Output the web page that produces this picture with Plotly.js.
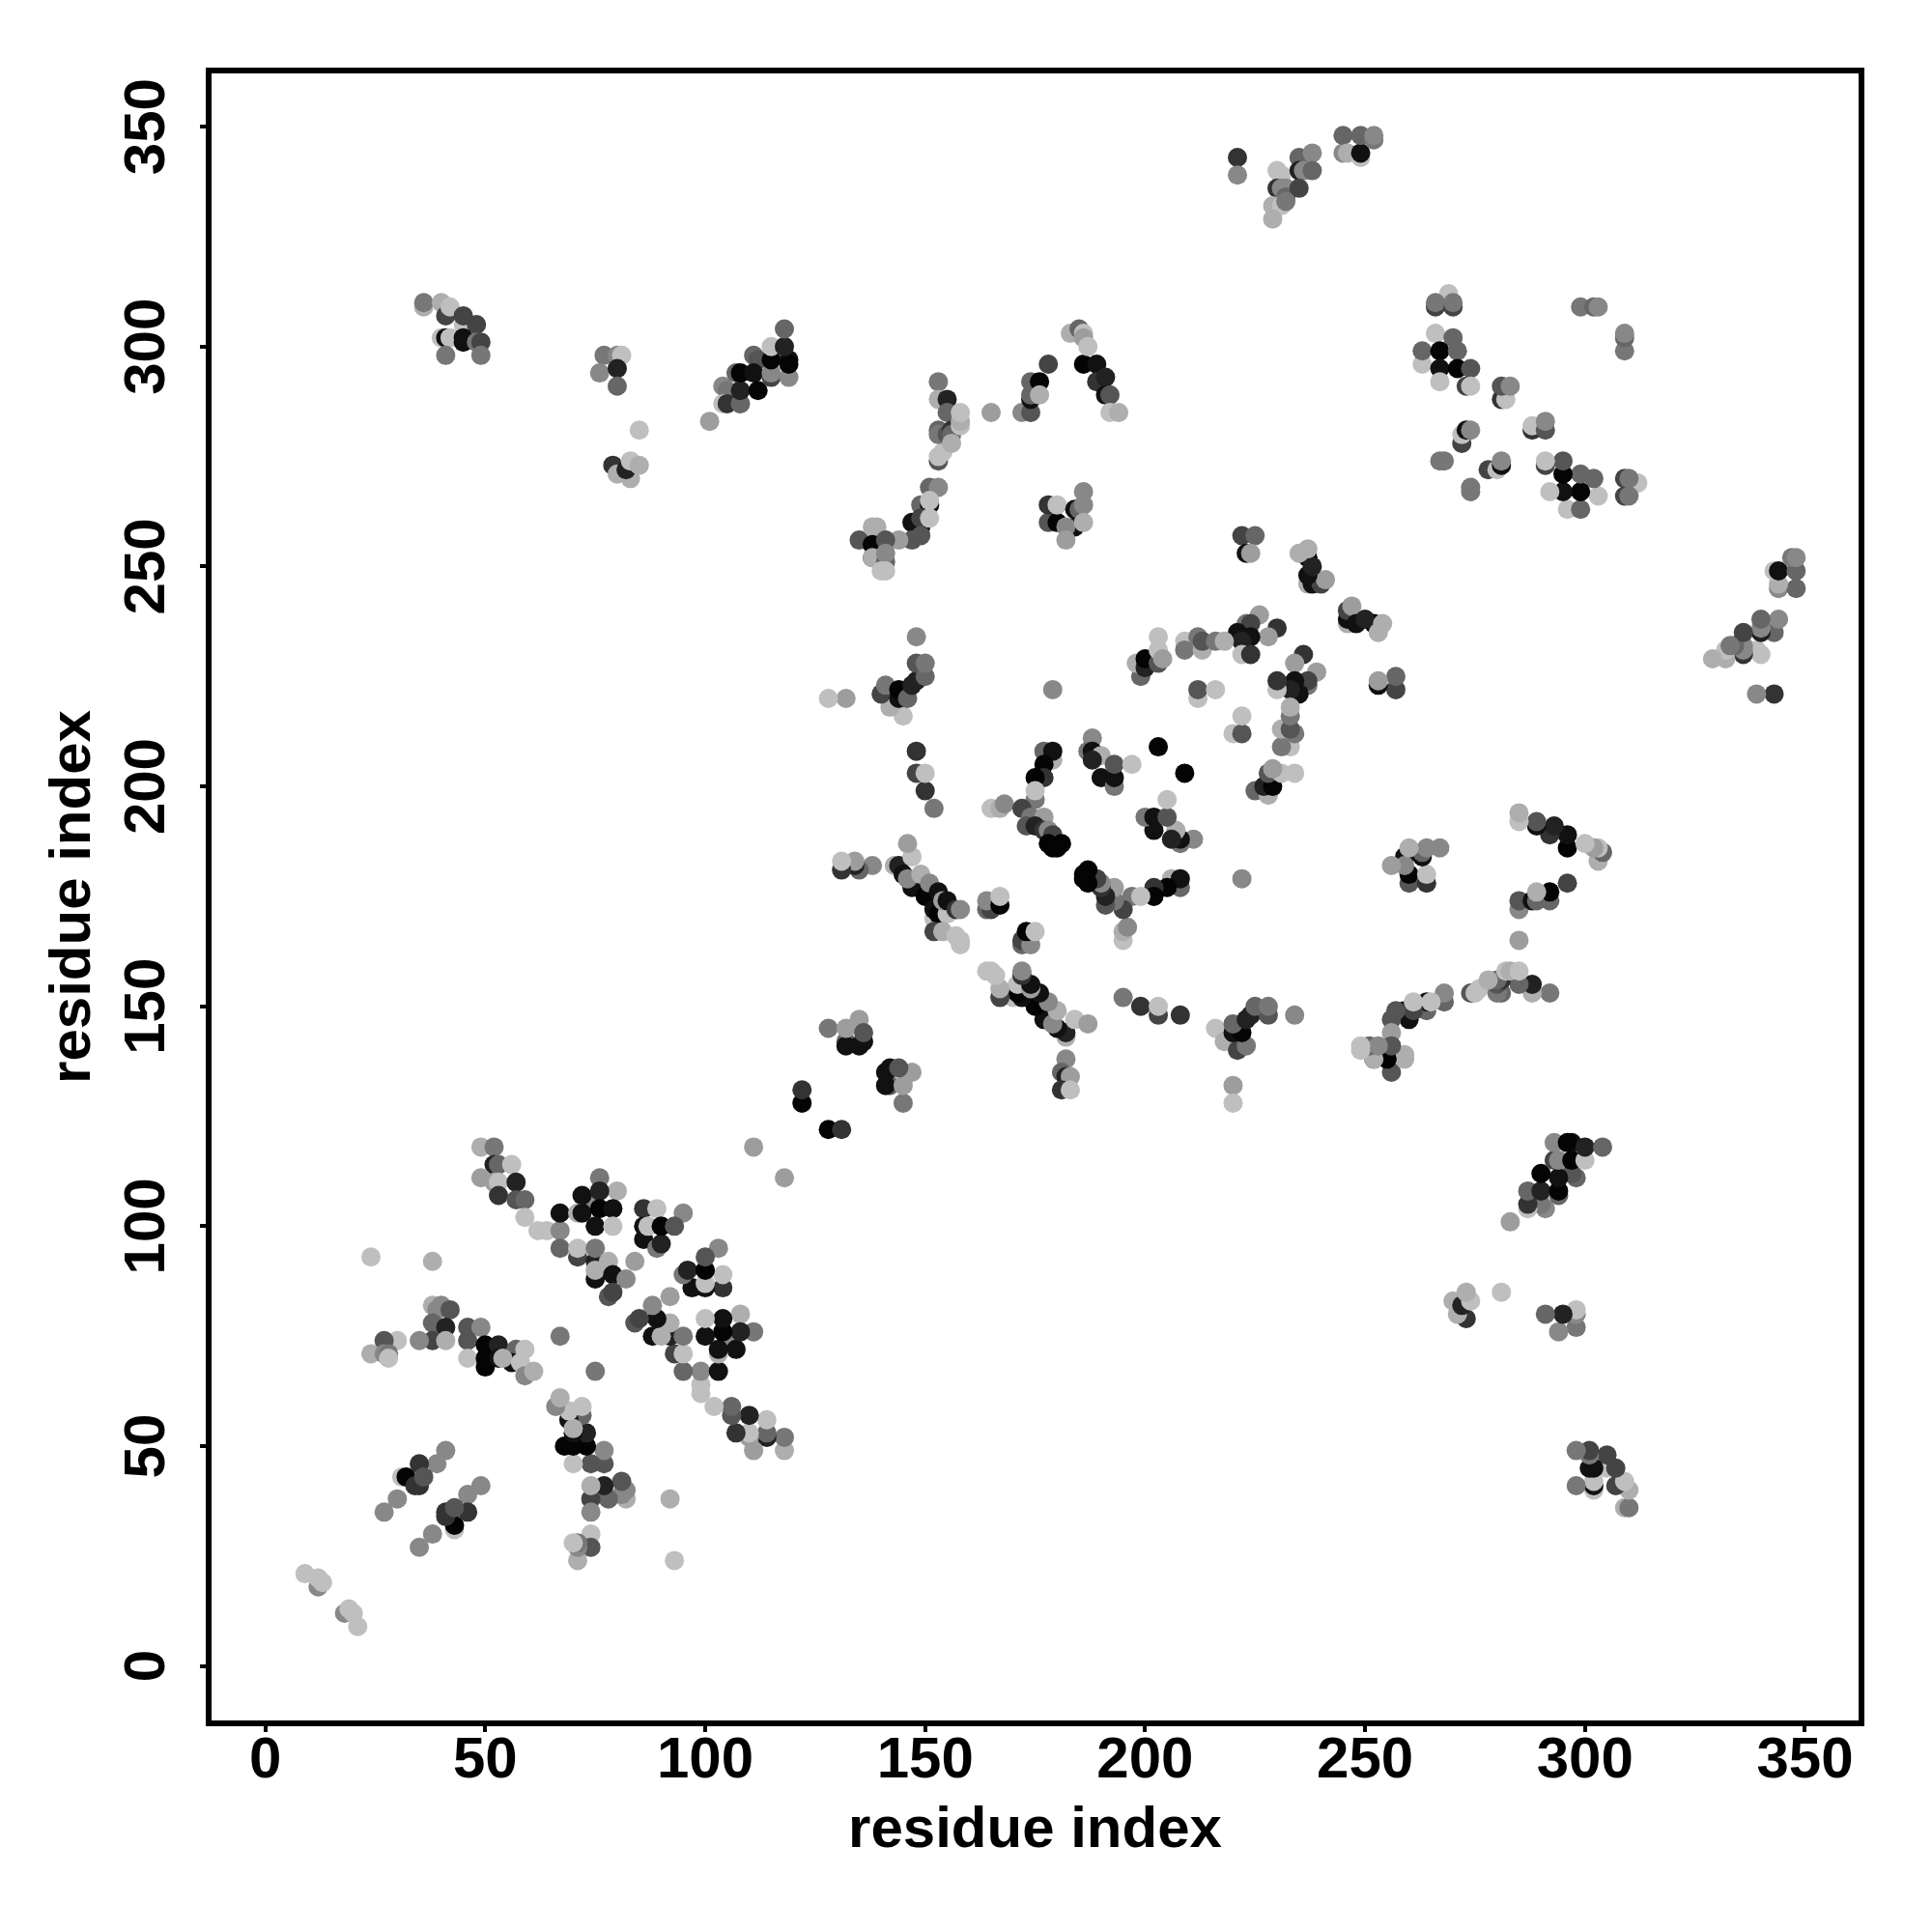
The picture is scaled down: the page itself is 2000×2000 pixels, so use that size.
<!DOCTYPE html>
<html>
<head>
<meta charset="utf-8">
<script src="https://cdn.plot.ly/plotly-3.0.1.min.js"></script>
<style>html,body{margin:0;padding:0;background:#fff}</style>
</head>
<body>
<div id="chart" style="width:2000px;height:2000px"></div>
<script>
// Contact map: each entry is [residue i, residue j, shade step 0 (black) .. 11 (light)]
const nTerminal = [[9,21,11],[12,18,8],[12,20,11],[13,19,11],[24,93,11],[38,92,10],[27,35,8],[30,38,8],[39,46,8],[41,49,8],[31,43,11],[32,43,0],[34,41,3],[35,41,3],[35,46,3],[36,43,5]];
const helixPairsA = [[38,82,10],[39,81,8],[40,82,8],[42,81,5],[39,77,10],[38,78,6],[41,77,2],[38,74,4],[41,74,10],[35,74,8],[30,74,11],[27,74,5],[24,71,10],[27,71,8],[28,71,7],[28,70,11],
[46,77,5],[49,77,8],[46,74,5],[46,70,11],[50,73,0],[50,70,0],[50,68,0],[53,73,2],[53,70,1],[57,72,6],[59,72,11],[56,69,1],[54,70,10],[58,69,11],[59,66,8],[61,67,10],[67,75,7]];
const helixPairsB = [[49,118,10],[52,118,7],[52,114,2],[53,114,6],[56,114,11],[49,111,9],[52,110,9],[53,110,11],[57,110,2],[53,107,3],[57,106,5],[59,106,6],[59,102,11],[62,99,11],[64,99,11],[67,99,8],
[67,103,1],[67,95,6],[71,93,4],[71,95,11],[75,92,2],[75,95,7],[75,88,1],[75,90,10],[78,92,10],[79,89,1],[82,88,8],[84,92,9],[78,84,5],[79,85,4],
[76,111,7],[80,108,10],[74,106,8],[72,107,1],[76,108,2],[71,103,10],[72,103,1],[76,104,0],[79,104,1],[75,100,1],[79,100,11],
[86,104,3],[89,104,11],[95,103,8],[86,100,1],[86,97,1],[87,100,11],[89,95,7],[90,96,2],[90,100,0],[93,100,5],[111,118,9]];
const middleDiagonal = [[122,128,0],[122,131,3],[128,145,7],[132,142,6],[132,141,1],[132,145,9],[135,141,1],[136,142,1],[135,147,9],[136,144,5]];
const farFromStart = [[36,309,10],[36,310,7],[40,310,10],[41,307,4],[42,309,11],[45,305,11],[45,307,4],[48,305,4],[40,302,11],[41,302,1],[42,302,11],[45,302,1],[45,301,1],[48,301,7],[49,301,4],[41,298,7],[49,298,7],
[77,298,7],[80,298,8],[81,298,11],[76,294,8],[80,295,2],[80,291,6],[85,281,11],[79,273,3],[80,271,10],[83,270,10],[82,272,2],[83,274,11],[85,273,10],
[101,283,9],[104,291,8],[105,290,7],[104,287,11],[105,287,3],[108,287,6],[108,290,2],[107,294,6],[108,294,0],[111,298,6],[112,297,5],[111,294,1],[112,290,0],[115,293,4],[115,294,8],[115,297,0],[115,300,11],[119,293,8],[119,297,1],[119,296,0],[118,300,2],[118,304,6]];
const upperArc = [[153,292,7],[153,288,10],[155,288,2],[155,285,6],[153,274,5],[153,275,11],[154,276,11],[153,281,6],[153,280,7],[155,280,5],[156,281,3],[156,280,6],[156,278,10],[158,282,11],[158,283,10],[158,285,11],
[165,285,9],[172,285,8],[174,285,5],[174,288,1],[174,289,6],[174,292,6],[176,292,0],[176,289,10],[178,296,4],
[186,296,0],[189,296,1],[183,303,10],[185,304,6],[186,303,11],[186,302,9],[187,300,11],[189,292,3],[191,293,2],[191,289,1],[192,289,5],[192,285,11],[194,285,10],
[151,268,6],[153,268,8],[149,264,6],[151,264,1],[151,265,11],[147,260,1],[149,259,1],[149,261,4],[151,261,11],[147,256,5],[149,257,5],[144,256,9],
[135,256,5],[139,259,10],[138,259,10],[138,255,0],[138,252,1],[141,256,5],[138,252,10],[141,251,6],[141,253,8],[140,249,11],[141,249,11],
[178,260,5],[178,264,3],[180,260,0],[180,264,11],[184,259,1],[184,263,1],[185,263,6],[186,264,8],[186,267,8],[182,259,8],[186,260,10],[182,256,9]];
const topRight = [[221,343,3],[221,339,8],[230,340,11],[231,339,11],[235,343,6],[238,344,8],[235,340,2],[236,340,8],[238,340,6],[230,336,3],[231,336,8],[232,336,8],[232,334,6],[235,336,4],[229,332,10],[231,332,11],[232,333,7],[229,329,10],
[245,344,8],[245,348,6],[246,344,10],[249,343,11],[249,344,1],[249,348,6],[252,347,7],[252,348,8],
[269,312,11],[266,309,4],[266,310,7],[270,309,4],[270,310,7],
[266,303,11],[270,302,6],[263,296,11],[263,299,6],[267,299,0],[271,299,6],[267,295,1],[271,295,0],[274,295,5],[267,292,11],[273,291,4],[274,291,11],
[281,288,3],[282,288,11],[281,291,5],[283,291,8],[272,278,4],[272,280,11],[273,281,1],[274,281,8],[267,274,7],[268,274,7],[299,309,7],[302,309,6],[303,309,8]];
const centralRing = [[222,257,4],[225,257,6],[223,253,1],[224,253,9],[237,246,10],[238,246,1],[240,246,4],[241,247,9],[237,248,1],[237,252,0],[238,250,2],[235,253,10],[237,254,10],
[226,239,9],[223,237,7],[224,237,4],[230,236,3],[228,234,9],[221,235,1],[224,234,1],[222,234,1],[222,233,2],[222,230,11],[224,230,3],
[203,234,11],[209,233,11],[209,231,7],[213,231,10],[212,234,7],[213,233,5],[216,233,7],[218,233,10],
[199,225,6],[198,228,10],[200,227,2],[200,229,0],[203,228,5],[203,231,11],[204,229,9],[212,220,11],[212,222,5],[216,222,11],[179,222,8],[203,209,0],
[188,211,8],[187,208,7],[188,208,1],[190,207,10],[177,208,6],[179,206,10],[179,208,1],[177,205,0],[177,202,3],[175,202,0],[175,197,7],[175,199,11],
[188,206,2],[190,202,1],[193,200,7],[193,202,1],[193,205,5],[197,205,11],[165,195,11],[167,195,10],[168,196,8],
[172,195,4],[174,193,7],[177,193,9],[173,191,5],[175,191,2],[177,190,3],[178,190,8],[179,189,4],[178,187,0],[181,187,0],[179,186,0],[180,186,0]];
const lowerArc = [[145,216,11],[142,218,10],[140,221,4],[141,223,7],[144,220,1],[144,222,0],[146,220,6],[147,223,2],[148,224,2],[148,228,5],[150,225,6],[150,228,7],[148,234,8],
[143,182,10],[144,182,2],[145,180,1],[147,177,1],[150,175,0],[146,179,8],[149,180,10],[147,184,11],[146,187,9],[152,170,11],[152,172,1],[153,171,0],[155,171,11],[151,178,8],[153,176,1],[154,174,9],[155,174,1],[157,172,3],[158,172,8],
[152,167,4],[154,167,10],[157,166,11],[158,165,11],[158,164,11],[165,173,0],[164,172,6],[165,172,4],[164,174,8],[167,173,0],[167,175,11],
[195,152,7],[199,150,3],[203,148,4],[203,150,11],[208,148,3],[220,132,9],[220,128,11],[182,138,8],[181,135,6],[182,134,2],[183,134,9],[181,131,3],[183,131,11]];
const tickValues = [0,50,100,150,200,250,300,350];
const axisLabel = "residue index";

const contacts = [].concat(nTerminal, helixPairsA, helixPairsB, middleDiagonal, farFromStart, upperArc, topRight, centralRing, lowerArc);
const shadeOf = s => { const v = s === 0 ? 4 : s * 17 + (s > 8 ? 4 : 0); return `rgb(${v},${v},${v})`; };
const xs = [], ys = [], cs = [];
contacts.forEach(c => { xs.push(c[0]); ys.push(c[1]); cs.push(shadeOf(c[2])); });
contacts.forEach(c => { xs.push(c[1]); ys.push(c[0]); cs.push(shadeOf(c[2])); });

const font = {family: "Liberation Sans, Arial, sans-serif", size: 60, color: "#000", weight: "bold"};
const axisBase = {
  tickmode: "array", tickvals: tickValues, ticktext: tickValues.map(String),
  ticks: "outside", ticklen: 6, tickwidth: 4, tickcolor: "#000",
  showline: true, linewidth: 6, linecolor: "#000", mirror: true,
  showgrid: false, zeroline: false, tickfont: font, automargin: false
};
Plotly.newPlot("chart", [{
  type: "scatter", mode: "markers", x: xs, y: ys,
  marker: {size: 20, color: cs, line: {width: 0}}
}], {
  width: 2000, height: 2000, showlegend: false,
  paper_bgcolor: "#fff", plot_bgcolor: "#fff",
  margin: {l: 219, r: 76, t: 76, b: 219},
  xaxis: Object.assign({}, axisBase, {range: [-12.23, 362.2], ticklabelstandoff: -25, title: {text: axisLabel, font: font, standoff: 20}}),
  yaxis: Object.assign({}, axisBase, {range: [-12.37, 362.1], tickangle: -90, ticklabelstandoff: 13, title: {text: axisLabel, font: font, standoff: 5}})
}, {displayModeBar: false, staticPlot: true}).then(() => {
  // The rotated y tick labels sit a little above their ticks; centre them on the tick.
  document.querySelectorAll(".ytick text").forEach(t => {
    t.setAttribute("transform", "translate(0,9) " + (t.getAttribute("transform") || ""));
  });
});
</script>
</body>
</html>
